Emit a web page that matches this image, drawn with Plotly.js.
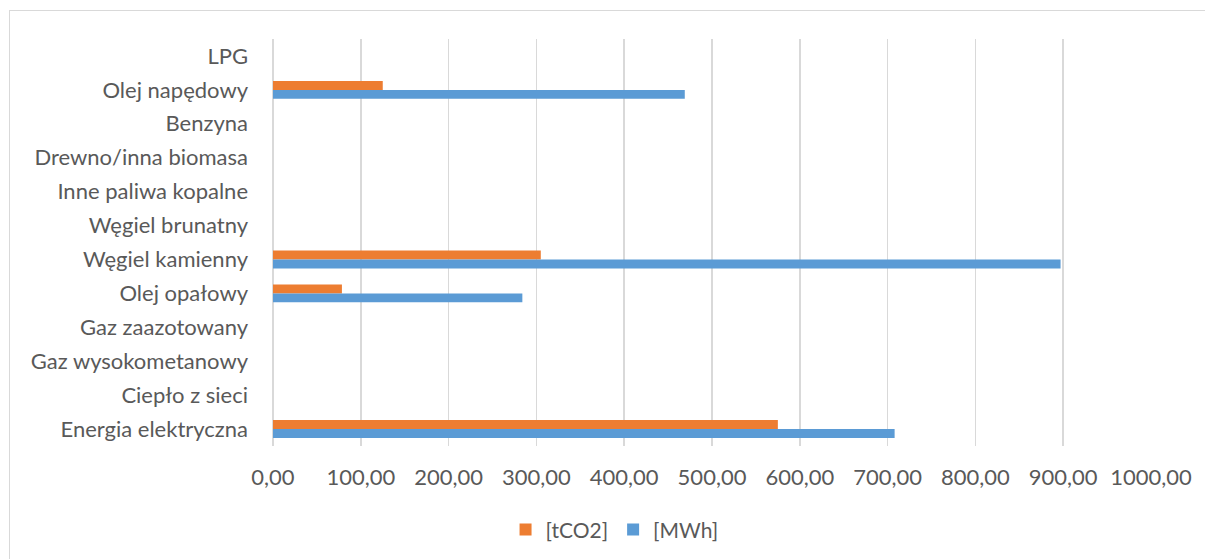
<!DOCTYPE html>
<html>
<head>
<meta charset="utf-8">
<script src="https://cdn.plot.ly/plotly-3.0.1.min.js"></script>
<style>
  html, body { margin: 0; padding: 0; background: #ffffff; }
  #frame { position: absolute; left: 9px; top: 10px; width: 1210px; height: 560px;
           border: 1px solid #d9d9d9; box-sizing: border-box; pointer-events: none; }
  #chart { position: absolute; left: 0; top: 0; width: 1205px; height: 559px; }
</style>
</head>
<body>
<div id="chart"></div>
<div id="frame"></div>
<script>
// Fuel / energy carriers, listed top to bottom
const categories = [
  "LPG",
  "Olej napędowy",
  "Benzyna",
  "Drewno/inna biomasa",
  "Inne paliwa kopalne",
  "Węgiel brunatny",
  "Węgiel kamienny",
  "Olej opałowy",
  "Gaz zaazotowany",
  "Gaz wysokometanowy",
  "Ciepło z sieci",
  "Energia elektryczna"
];

// Emissions [tCO2]
const emissionsT = [0, 125, 0, 0, 0, 0, 305, 78.5, 0, 0, 0, 575];

// Energy use [MWh]
const energyMWh = [0, 469, 0, 0, 0, 0, 897, 284, 0, 0, 0, 708];

const seriesNames = ["[tCO2]", "[MWh]"];

const fontFamily = "Lato, 'Open Sans', sans-serif";
const textColor = "#595959";

const traces = [
  {
    type: "bar",
    orientation: "h",
    name: seriesNames[0],
    y: categories,
    x: emissionsT,
    marker: { color: "#ED7D31", line: { width: 0 } },
    hoverinfo: "x+y+name"
  },
  {
    type: "bar",
    orientation: "h",
    name: seriesNames[1],
    y: categories,
    x: energyMWh,
    marker: { color: "#5B9BD5", line: { width: 0 } },
    hoverinfo: "x+y+name"
  }
];

const layout = {
  width: 1205,
  height: 559,
  margin: { l: 273, r: 54, t: 39, b: 113 },
  paper_bgcolor: "#ffffff",
  plot_bgcolor: "#ffffff",
  separators: ", ",
  barmode: "group",
  bargap: 0.47,
  bargroupgap: 0,
  font: { family: fontFamily, size: 22, color: textColor },
  xaxis: {
    range: [0, 1000],
    dtick: 100,
    tick0: 0,
    tickformat: ".2f",
    showgrid: true,
    gridcolor: "#d9d9d9",
    gridwidth: 1.5,
    zeroline: true,
    zerolinecolor: "#d9d9d9",
    zerolinewidth: 1.5,
    showline: false,
    ticks: "outside",
    ticklen: 12,
    tickcolor: "rgba(0,0,0,0)",
    tickfont: { family: fontFamily, size: 22, color: textColor },
    fixedrange: true
  },
  yaxis: {
    type: "category",
    autorange: "reversed",
    showgrid: false,
    zeroline: false,
    showline: false,
    ticks: "",
    ticklabelstandoff: 24,
    tickfont: { family: fontFamily, size: 22, color: textColor },
    fixedrange: true
  },
  showlegend: true,
  legend: {
    orientation: "h",
    xref: "container",
    yref: "container",
    x: 0.51,
    xanchor: "center",
    y: 0.052,
    yanchor: "middle",
    itemwidth: 30,
    font: { family: fontFamily, size: 21, color: textColor },
    bgcolor: "rgba(0,0,0,0)"
  }
};

Plotly.newPlot("chart", traces, layout, { displayModeBar: false, staticPlot: true });
</script>
</body>
</html>
